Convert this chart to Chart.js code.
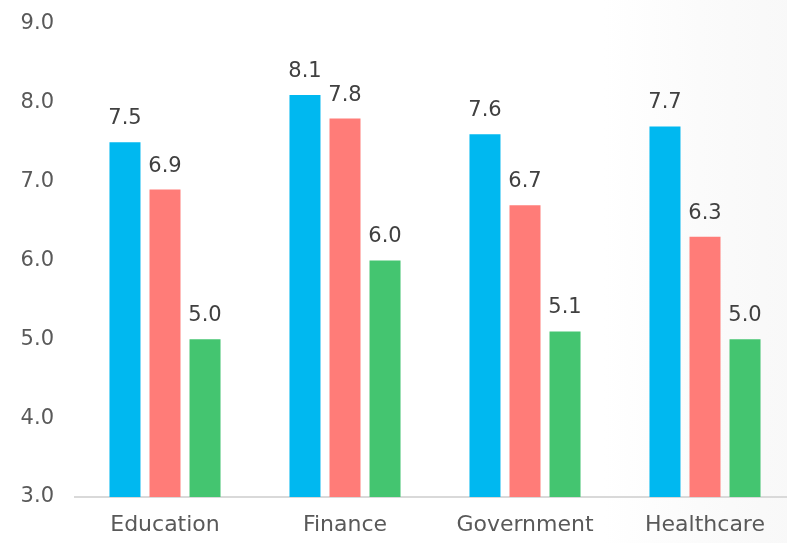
<!DOCTYPE html>
<html>
<head>
<meta charset="utf-8">
<script src="https://cdn.jsdelivr.net/npm/chart.js@4"></script>
<style>
  html, body {
    margin: 0;
    padding: 0;
    overflow: hidden;
    background: #ffffff;
  }
  #wrap {
    position: relative;
    width: 795px;
    height: 543px;
    background: linear-gradient(90deg, #ffffff 0%, #ffffff 76%, #fbfbfb 88%, #f8f8f8 100%);
  }
</style>
</head>
<body>
<div id="wrap">
  <canvas id="chart" width="795" height="543"></canvas>
</div>
<script>
const categories = ['Education', 'Finance', 'Government', 'Healthcare'];
const seriesA = [7.5, 8.1, 7.6, 7.7];
const seriesB = [6.9, 7.8, 6.7, 6.3];
const seriesC = [5.0, 6.0, 5.1, 5.0];

const colors = {
  blue: '#00b8f0',
  salmon: '#ff7c78',
  green: '#44c570',
  axis: '#d9d9d9',
  tick: '#595959',
  value: '#404040'
};

const fontFamily = '"DejaVu Sans", sans-serif';

// writes each bar's value just above its top
const valueLabels = {
  id: 'valueLabels',
  afterDatasetsDraw(chart) {
    const ctx = chart.ctx;
    ctx.save();
    ctx.font = '21px ' + fontFamily;
    ctx.fillStyle = colors.value;
    ctx.textAlign = 'center';
    ctx.textBaseline = 'bottom';
    chart.data.datasets.forEach((ds, i) => {
      chart.getDatasetMeta(i).data.forEach((bar, j) => {
        ctx.fillText(ds.data[j].toFixed(1), bar.x, bar.y - 13);
      });
    });
    ctx.restore();
  }
};

function makeSet(data, color) {
  return {
    data: data,
    backgroundColor: color,
    borderWidth: 0,
    categoryPercentage: 0.667,
    barPercentage: 0.775
  };
}

new Chart(document.getElementById('chart'), {
  type: 'bar',
  data: {
    labels: categories,
    datasets: [
      makeSet(seriesA, colors.blue),
      makeSet(seriesB, colors.salmon),
      makeSet(seriesC, colors.green)
    ]
  },
  options: {
    responsive: false,
    animation: false,
    layout: { padding: { top: 24, right: 0, left: 0, bottom: 0 } },
    plugins: {
      legend: { display: false },
      tooltip: { enabled: false }
    },
    scales: {
      x: {
        grid: { display: false, drawTicks: false },
        border: { display: true, color: colors.axis, width: 2 },
        ticks: {
          color: colors.tick,
          font: { family: fontFamily, size: 22 },
          padding: 15
        },
        afterFit(scale) {
          scale.height = 46;
          scale.paddingLeft = 0;
          scale.paddingRight = 0;
        }
      },
      y: {
        min: 3,
        max: 9,
        grid: { display: false, drawTicks: false },
        border: { display: false },
        ticks: {
          stepSize: 1,
          color: colors.tick,
          font: { family: fontFamily, size: 21 },
          padding: 21,
          callback: v => v.toFixed(1)
        },
        afterFit(scale) {
          scale.width = 75;
          scale.paddingTop = 0;
          scale.paddingBottom = 0;
        }
      }
    }
  },
  plugins: [valueLabels]
});
</script>
</body>
</html>
